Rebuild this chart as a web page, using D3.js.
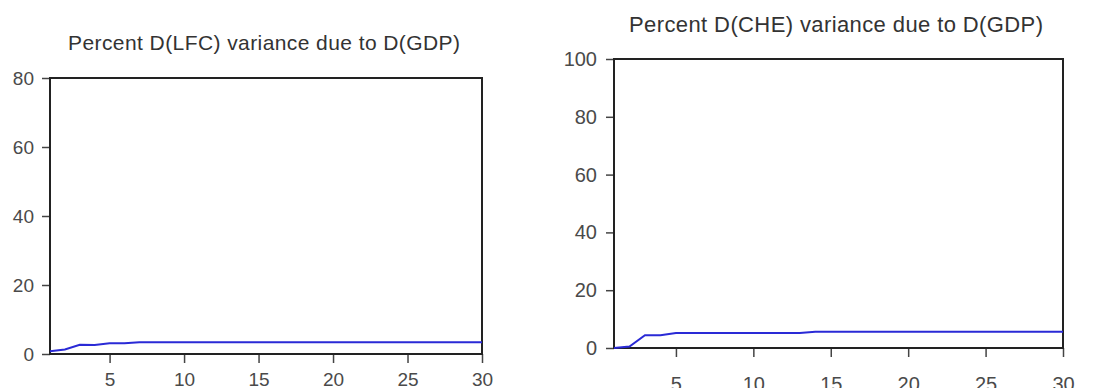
<!DOCTYPE html>
<html>
<head>
<meta charset="utf-8">
<script src="https://cdn.jsdelivr.net/npm/d3@7"></script>
<style>
  html, body { margin: 0; padding: 0; background: #fff; }
  svg { display: block; font-family: "Liberation Sans", Arial, sans-serif; }
</style>
</head>
<body>
<div id="chart"></div>
<script>
;(function () {
    "use strict";

    // forecast horizon (periods)
    var periods = [1, 2, 3, 4, 5, 6, 7, 8, 9, 10, 11, 12, 13, 14, 15,
                   16, 17, 18, 19, 20, 21, 22, 23, 24, 25, 26, 27, 28, 29, 30];

    // Percent D(LFC) variance due to D(GDP)
    var lfcShare = [0.8, 1.3, 2.7, 2.6, 3.1, 3.1, 3.4, 3.4, 3.4, 3.4,
                    3.4, 3.4, 3.4, 3.4, 3.4, 3.4, 3.4, 3.4, 3.4, 3.4,
                    3.4, 3.4, 3.4, 3.4, 3.4, 3.4, 3.4, 3.4, 3.4, 3.4];

    // Percent D(CHE) variance due to D(GDP)
    var cheShare = [0.0, 0.5, 4.4, 4.4, 5.2, 5.2, 5.2, 5.2, 5.2, 5.2,
                    5.2, 5.2, 5.2, 5.6, 5.6, 5.6, 5.6, 5.6, 5.6, 5.6,
                    5.6, 5.6, 5.6, 5.6, 5.6, 5.6, 5.6, 5.6, 5.6, 5.6];

    var xTicks = [5, 10, 15, 20, 25, 30];
    var lfcTicks = [0, 20, 40, 60, 80];
    var cheTicks = [0, 20, 40, 60, 80, 100];

    var panels = [
        { title: "Percent D(LFC) variance due to D(GDP)", values: lfcShare, yMax: 80, yTicks: lfcTicks,
          left: 50, right: 482, top: 78, bottom: 354, titleY: 50, titleX: 264, titleW: 392, titleSize: 21,
          labelSize: 19, yPad: 8, xLabelY: 386 },
        { title: "Percent D(CHE) variance due to D(GDP)", values: cheShare, yMax: 100, yTicks: cheTicks,
          left: 614, right: 1063, top: 59, bottom: 348, titleY: 32, titleX: 836, titleW: 414, titleSize: 22,
          labelSize: 20, yPad: 9, xLabelY: 391 }
    ];

    var svg = d3.select("#chart").append("svg")
        .attr("width", 1110)
        .attr("height", 388);

    panels.forEach(function (p) {
        var x, y, g, line;

        x = d3.scaleLinear().domain([1, 30]).range([p.left, p.right]);
        y = d3.scaleLinear().domain([0, p.yMax]).range([p.bottom, p.top]);

        g = svg.append("g");

        g.append("text")
            .attr("x", p.titleX)
            .attr("y", p.titleY)
            .attr("text-anchor", "middle")
            .attr("textLength", p.titleW)
            .attr("font-size", p.titleSize)
            .attr("fill", "#333")
            .text(p.title);

        // y axis
        g.append("g")
            .attr("transform", "translate(" + p.left + ",0)")
            .call(d3.axisLeft(y).tickValues(p.yTicks).tickSize(8).tickPadding(p.yPad).tickFormat(d3.format("d")))
            .call(function (a) {
                a.select(".domain").remove();
                a.selectAll(".tick line").attr("stroke", "#444").attr("stroke-width", 1.5);
                a.selectAll(".tick text").attr("font-size", p.labelSize).attr("fill", "#4a4a4a")
                    .attr("font-family", "Liberation Sans, Arial, sans-serif");
            });

        // x axis
        g.append("g")
            .attr("transform", "translate(0," + p.bottom + ")")
            .call(d3.axisBottom(x).tickValues(xTicks).tickSize(9).tickFormat(d3.format("d")))
            .call(function (a) {
                a.select(".domain").remove();
                a.selectAll(".tick line").attr("stroke", "#444").attr("stroke-width", 1.5);
                a.selectAll(".tick text").attr("font-size", p.labelSize).attr("fill", "#4a4a4a")
                    .attr("font-family", "Liberation Sans, Arial, sans-serif")
                    .attr("dy", null)
                    .attr("y", p.xLabelY - p.bottom);
            });

        // frame
        g.append("rect")
            .attr("x", p.left)
            .attr("y", p.top)
            .attr("width", p.right - p.left)
            .attr("height", p.bottom - p.top)
            .attr("fill", "none")
            .attr("stroke", "#222")
            .attr("stroke-width", 2);

        line = d3.line()
            .x(function (d, i) { return x(periods[i]); })
            .y(function (d) { return y(d); });

        g.append("path")
            .datum(p.values)
            .attr("d", line)
            .attr("fill", "none")
            .attr("stroke", "#2a2ad6")
            .attr("stroke-width", 2);
    });

}());
</script>
</body>
</html>
